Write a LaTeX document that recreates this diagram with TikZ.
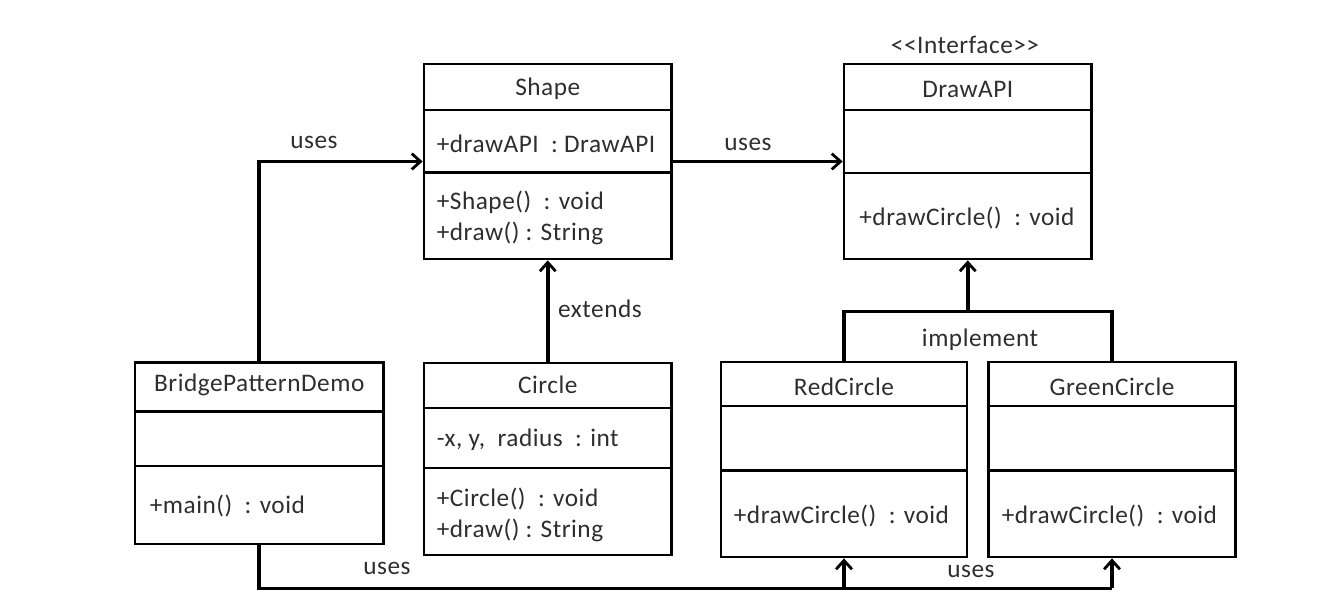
\documentclass[tikz,border=0pt]{standalone}
\usepackage{fontspec}
\setmainfont{Carlito}[LetterSpace=2]
\usetikzlibrary{arrows.meta}
\tikzset{
  classbox/.style={draw, rectangle, line width=1.6pt, inner sep=0pt},
  divider/.style={line width=1.6pt},
  member/.style={anchor=west, inner sep=0pt, text=black!82, align=left,
    font=\fontsize{14.4}{17.5}\selectfont},
  classname/.style={inner sep=0pt, text=black!82, font=\fontsize{14.4}{16}\selectfont},
  tag/.style={inner sep=0pt, text=black!82, font=\fontsize{14.4}{16}\selectfont},
  wire/.style={line width=2pt},
  link/.style={wire, -{Straight Barb[length=5pt,width=9pt,line width=1.6pt]}},
}
\begin{document}
\begin{tikzpicture}[x=0.02cm,y=-0.02cm]  % ------ Bridge pattern, diagramme de classes ------
    \useasboundingbox (0,0) rectangle (1336,614);
    % les classes
    \node [classbox, minimum width=4.95cm, minimum height=3.9cm] (shape) at (547.75,161.5) {};
    \node [classbox, minimum width=4.95cm, minimum height=3.9cm] (drawapi) at (967.75,161.5) {};
    \node [classbox, minimum width=4.97cm, minimum height=3.63cm] (bpd) at (259.25,453.25) {};
    \node [classbox, minimum width=4.95cm, minimum height=3.84cm] (circle) at (547.75,459) {};
    \node [classbox, minimum width=4.92cm, minimum height=3.9cm] (redcircle) at (844,459.5) {};
    \node [classbox, minimum width=4.94cm, minimum height=3.9cm] (greencircle) at (1112,459.5) {};
    % les separations
    \draw [divider] (shape.west |- 0,110) -- (shape.east |- 0,110);
    \draw [divider] (shape.west |- 0,172.7) -- (shape.east |- 0,172.7);
    \draw [divider] (drawapi.west |- 0,110) -- (drawapi.east |- 0,110);
    \draw [divider] (drawapi.west |- 0,173) -- (drawapi.east |- 0,173);
    \draw [divider] (bpd.west |- 0,411.7) -- (bpd.east |- 0,411.7);
    \draw [divider] (bpd.west |- 0,466) -- (bpd.east |- 0,466);
    \draw [divider] (circle.west |- 0,408) -- (circle.east |- 0,408);
    \draw [divider] (circle.west |- 0,468) -- (circle.east |- 0,468);
    \draw [divider] (redcircle.west |- 0,406) -- (redcircle.east |- 0,406);
    \draw [divider] (redcircle.west |- 0,470.7) -- (redcircle.east |- 0,470.7);
    \draw [divider] (greencircle.west |- 0,406) -- (greencircle.east |- 0,406);
    \draw [divider] (greencircle.west |- 0,470.7) -- (greencircle.east |- 0,470.7);
    % les textes
    \node [classname] (shapename) at (547.75,89) {Shape};
    \node [member] (shapeattr) at (436.5,144) {+drawAPI\ \ :\ DrawAPI};
    \node [member] (shapeops) at (436.5,218) {+Shape()\ \ : void\\+draw() : String};
    \node [tag] (stereo) at (965,45) {<{}<Interface>{}>};
    \node [classname] (drawapiname) at (967.75,89) {DrawAPI};
    \node [member] (drawapiops) at (859,218.5) {+drawCircle()\ \ : void};
    \node [classname] (bpdname) at (259.25,385) {BridgePatternDemo};
    \node [member] (bpdops) at (149.5,506.5) {+main()\ \ : void};
    \node [classname] (circlename) at (547.75,385) {Circle};
    \node [member] (circleattr) at (436.5,440) {-x, y,\ \ radius\ \ : int};
    \node [member] (circleops) at (436.5,515) {+Circle()\ \ : void\\+draw() : String};
    \node [classname] (redname) at (844,386.5) {RedCircle};
    \node [member] (redops) at (733.5,516.5) {+drawCircle()\ \ : void};
    \node [classname] (greenname) at (1112,386.5) {GreenCircle};
    \node [member] (greenops) at (1001.5,516.5) {+drawCircle()\ \ : void};
    % les liens
    \draw [link] (bpd.north) |- (shape.west);
    \draw [link] (shape.east) -- (drawapi.west);
    \draw [link] (circle.north) -- (shape.south);
    \coordinate (impl) at (drawapi.south |- 0,311.5);
    \draw [wire] (redcircle.north) |- (impl) -| (greencircle.north);
    \draw [link] (impl) -- (drawapi.south);
    \coordinate (bus) at (greencircle.south |- 0,588.5);
    \draw [wire] (bpd.south) |- (bus);
    \draw [link] (bus) -- (greencircle.south);
    \draw [link] (redcircle.south |- bus) -- (redcircle.south);
    % les etiquettes
    \node [tag] (usesleft) at (314,142.5) {uses};
    \node [tag] (usesright) at (748,144) {uses};
    \node [tag] (extends) at (600,309) {extends};
    \node [tag] (implement) at (980,340) {implement};
    \node [tag] (usesbottom) at (387,568) {uses};
    \node [tag] (usesbus) at (971,571.5) {uses};
\end{tikzpicture}
\end{document}
